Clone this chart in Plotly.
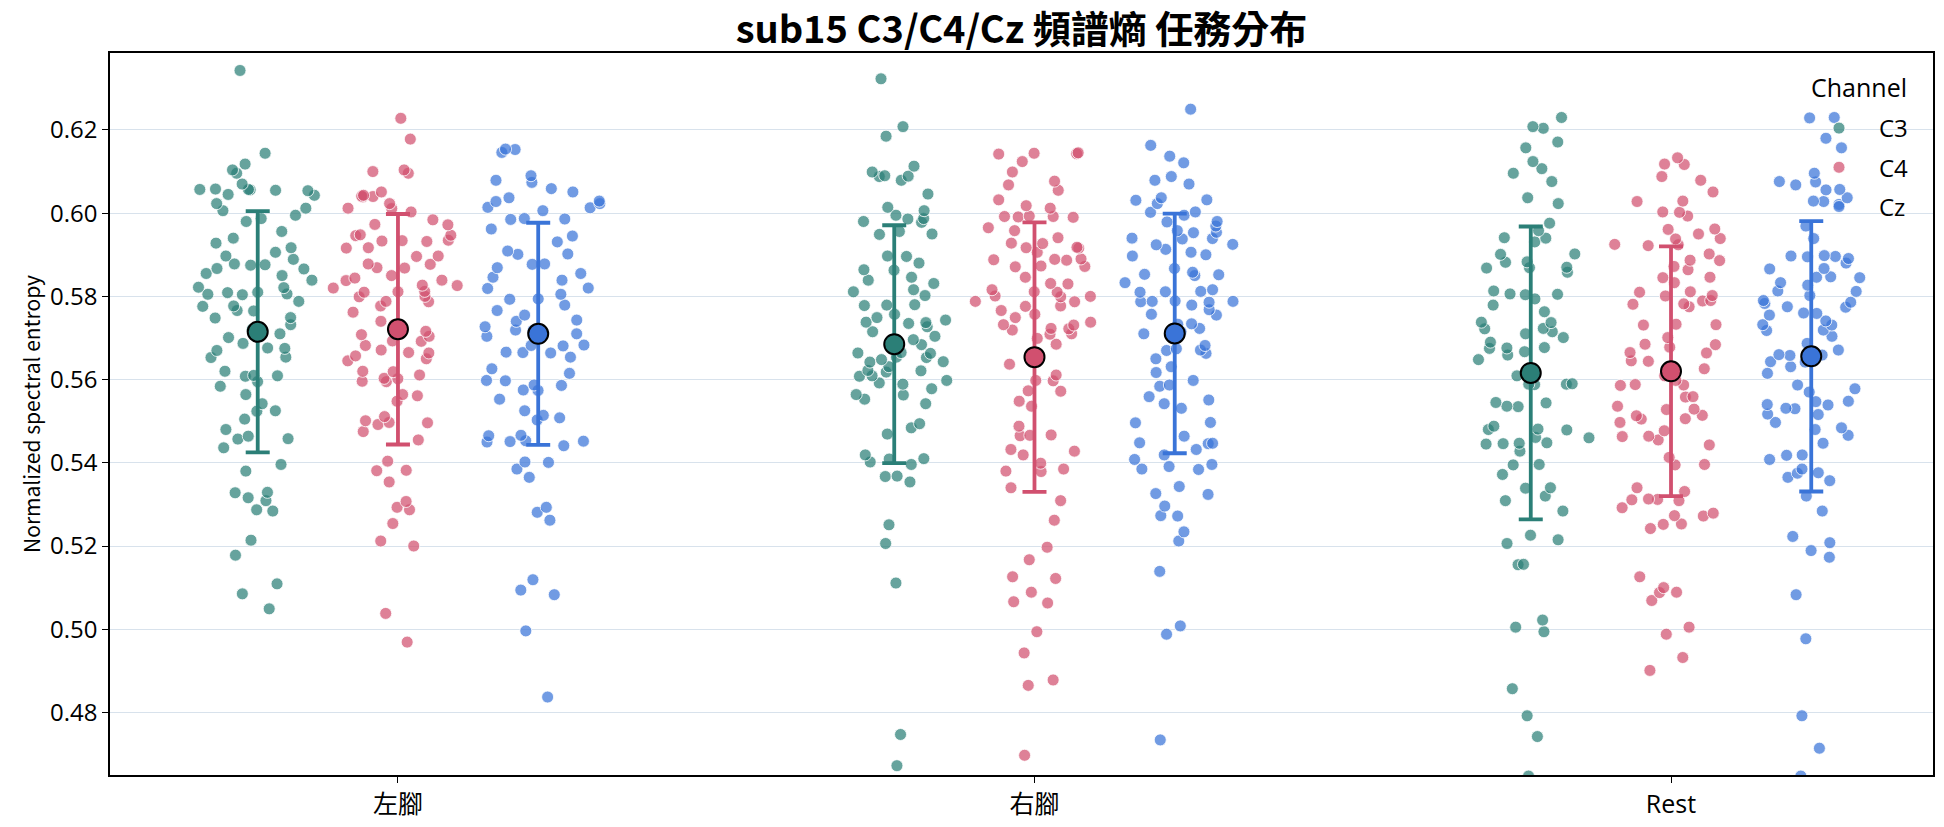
import plotly.graph_objects as go

conditions = ["左腳", "右腳", "Rest"]
channels = ["C3", "C4", "Cz"]

c3_left = [0.6343, 0.6144, 0.6118, 0.6104, 0.6096, 0.6070, 0.6057, 0.6055, 0.6058, 0.6056, 0.6054, 0.6057,
           0.6045, 0.6043, 0.6023, 0.6012, 0.6006, 0.5995, 0.5987, 0.5980, 0.5956, 0.5940, 0.5928, 0.5917,
           0.5906, 0.5897, 0.5889, 0.5878, 0.5876, 0.5875, 0.5867, 0.5866, 0.5855, 0.5850, 0.5839, 0.5822,
           0.5821, 0.5810, 0.5809, 0.5805, 0.5804, 0.5806, 0.5788, 0.5777, 0.5776, 0.5766, 0.5765, 0.5749,
           0.5748, 0.5732, 0.5721, 0.5710, 0.5701, 0.5687, 0.5676, 0.5675, 0.5670, 0.5654, 0.5653, 0.5620,
           0.5609, 0.5608, 0.5610, 0.5595, 0.5584, 0.5564, 0.5542, 0.5525, 0.5524, 0.5505, 0.5480, 0.5464,
           0.5458, 0.5457, 0.5436, 0.5396, 0.5380, 0.5329, 0.5328, 0.5316, 0.5309, 0.5287, 0.5284, 0.5214,
           0.5178, 0.5109, 0.5085, 0.5049]
c4_left = [0.6228, 0.6178, 0.6104, 0.6100, 0.6096, 0.6051, 0.6043, 0.6040, 0.6041, 0.6039, 0.6023, 0.6012,
           0.6011, 0.6003, 0.5984, 0.5973, 0.5972, 0.5947, 0.5946, 0.5948, 0.5934, 0.5933, 0.5935, 0.5932,
           0.5917, 0.5916, 0.5897, 0.5896, 0.5878, 0.5877, 0.5869, 0.5868, 0.5850, 0.5844, 0.5839, 0.5838,
           0.5827, 0.5826, 0.5820, 0.5811, 0.5810, 0.5812, 0.5800, 0.5799, 0.5788, 0.5787, 0.5777, 0.5762,
           0.5740, 0.5732, 0.5716, 0.5708, 0.5704, 0.5693, 0.5692, 0.5682, 0.5671, 0.5665, 0.5664, 0.5657,
           0.5650, 0.5645, 0.5620, 0.5619, 0.5611, 0.5603, 0.5602, 0.5596, 0.5595, 0.5564, 0.5561, 0.5548,
           0.5511, 0.5501, 0.5497, 0.5496, 0.5492, 0.5475, 0.5455, 0.5404, 0.5382, 0.5381, 0.5354, 0.5307,
           0.5293, 0.5287, 0.5254, 0.5212, 0.5200, 0.5038, 0.4969]
cz_left = [0.6154, 0.6153, 0.6146, 0.6090, 0.6079, 0.6074, 0.6059, 0.6051, 0.6037, 0.6029, 0.6028, 0.6023,
           0.6014, 0.6013, 0.6006, 0.5986, 0.5985, 0.5987, 0.5962, 0.5945, 0.5931, 0.5909, 0.5902, 0.5901,
           0.5878, 0.5877, 0.5869, 0.5855, 0.5846, 0.5839, 0.5820, 0.5819, 0.5805, 0.5794, 0.5793, 0.5779,
           0.5766, 0.5755, 0.5743, 0.5740, 0.5727, 0.5719, 0.5718, 0.5710, 0.5704, 0.5682, 0.5681, 0.5683,
           0.5665, 0.5664, 0.5666, 0.5654, 0.5626, 0.5615, 0.5598, 0.5597, 0.5587, 0.5586, 0.5575, 0.5574,
           0.5553, 0.5525, 0.5514, 0.5508, 0.5503, 0.5466, 0.5465, 0.5452, 0.5451, 0.5453, 0.5450, 0.5441,
           0.5402, 0.5401, 0.5385, 0.5365, 0.5293, 0.5281, 0.5262, 0.5119, 0.5094, 0.5083, 0.4996, 0.4837]

c3_right = [0.6323, 0.6208, 0.6185, 0.6113, 0.6099, 0.6090, 0.6088, 0.6089, 0.6079, 0.6046, 0.6014, 0.6006,
            0.5995, 0.5987, 0.5986, 0.5980, 0.5978, 0.5956, 0.5950, 0.5949, 0.5897, 0.5896, 0.5880, 0.5864,
            0.5863, 0.5846, 0.5839, 0.5831, 0.5816, 0.5811, 0.5802, 0.5779, 0.5778, 0.5780, 0.5757, 0.5749,
            0.5743, 0.5738, 0.5737, 0.5735, 0.5727, 0.5715, 0.5704, 0.5696, 0.5685, 0.5684, 0.5665, 0.5664,
            0.5663, 0.5654, 0.5653, 0.5648, 0.5643, 0.5642, 0.5631, 0.5622, 0.5621, 0.5618, 0.5609, 0.5608,
            0.5598, 0.5592, 0.5589, 0.5578, 0.5564, 0.5563, 0.5553, 0.5542, 0.5494, 0.5484, 0.5469, 0.5419,
            0.5410, 0.5409, 0.5402, 0.5396, 0.5368, 0.5367, 0.5354, 0.5251, 0.5206, 0.5111, 0.4747, 0.4672]
c4_right = [0.6145, 0.6143, 0.6144, 0.6142, 0.6124, 0.6099, 0.6077, 0.6068, 0.6055, 0.6032, 0.6018, 0.6012,
            0.5992, 0.5991, 0.5993, 0.5992, 0.5990, 0.5965, 0.5958, 0.5941, 0.5928, 0.5927, 0.5917, 0.5916,
            0.5918, 0.5906, 0.5889, 0.5888, 0.5890, 0.5887, 0.5872, 0.5871, 0.5873, 0.5846, 0.5831, 0.5830,
            0.5816, 0.5811, 0.5810, 0.5800, 0.5799, 0.5801, 0.5788, 0.5787, 0.5777, 0.5776, 0.5766, 0.5757,
            0.5749, 0.5738, 0.5732, 0.5731, 0.5723, 0.5722, 0.5719, 0.5710, 0.5709, 0.5699, 0.5685, 0.5659,
            0.5637, 0.5611, 0.5598, 0.5597, 0.5573, 0.5572, 0.5548, 0.5536, 0.5488, 0.5466, 0.5465, 0.5467,
            0.5432, 0.5428, 0.5419, 0.5399, 0.5385, 0.5380, 0.5379, 0.5340, 0.5309, 0.5262, 0.5197, 0.5167,
            0.5126, 0.5122, 0.5089, 0.5066, 0.5063, 0.4994, 0.4943, 0.4878, 0.4865, 0.4697]
cz_right = [0.6250, 0.6163, 0.6137, 0.6121, 0.6088, 0.6079, 0.6070, 0.6037, 0.6032, 0.6031, 0.6023, 0.6003,
            0.6002, 0.5995, 0.5980, 0.5979, 0.5969, 0.5958, 0.5954, 0.5953, 0.5939, 0.5938, 0.5940, 0.5925,
            0.5924, 0.5913, 0.5906, 0.5900, 0.5897, 0.5867, 0.5858, 0.5853, 0.5852, 0.5850, 0.5833, 0.5816,
            0.5811, 0.5810, 0.5812, 0.5788, 0.5787, 0.5789, 0.5788, 0.5786, 0.5779, 0.5768, 0.5757, 0.5755,
            0.5734, 0.5733, 0.5723, 0.5715, 0.5710, 0.5682, 0.5674, 0.5671, 0.5670, 0.5663, 0.5650, 0.5631,
            0.5617, 0.5598, 0.5587, 0.5584, 0.5559, 0.5551, 0.5542, 0.5531, 0.5497, 0.5496, 0.5464, 0.5447,
            0.5446, 0.5448, 0.5432, 0.5419, 0.5408, 0.5396, 0.5391, 0.5385, 0.5384, 0.5343, 0.5326, 0.5324,
            0.5296, 0.5273, 0.5272, 0.5234, 0.5212, 0.5139, 0.5008, 0.4988, 0.4734]

c3_rest = [0.6230, 0.6208, 0.6204, 0.6171, 0.6157, 0.6124, 0.6107, 0.6096, 0.6076, 0.6037, 0.6023, 0.5976,
           0.5958, 0.5941, 0.5940, 0.5931, 0.5902, 0.5901, 0.5883, 0.5882, 0.5869, 0.5868, 0.5870, 0.5858,
           0.5813, 0.5805, 0.5804, 0.5806, 0.5794, 0.5779, 0.5763, 0.5738, 0.5737, 0.5723, 0.5722, 0.5715,
           0.5710, 0.5701, 0.5690, 0.5676, 0.5675, 0.5677, 0.5667, 0.5659, 0.5648, 0.5609, 0.5589, 0.5588,
           0.5590, 0.5589, 0.5545, 0.5544, 0.5536, 0.5535, 0.5488, 0.5480, 0.5479, 0.5481, 0.5461, 0.5460,
           0.5447, 0.5446, 0.5448, 0.5445, 0.5428, 0.5396, 0.5395, 0.5372, 0.5340, 0.5339, 0.5320, 0.5309,
           0.5284, 0.5226, 0.5215, 0.5206, 0.5156, 0.5155, 0.5022, 0.5005, 0.4994, 0.4857, 0.4792, 0.4742,
           0.4647]
c4_rest = [0.6133, 0.6118, 0.6117, 0.6088, 0.6079, 0.6051, 0.6029, 0.6028, 0.6003, 0.6002, 0.5993, 0.5962,
           0.5961, 0.5950, 0.5939, 0.5938, 0.5925, 0.5924, 0.5922, 0.5902, 0.5887, 0.5886, 0.5872, 0.5864,
           0.5846, 0.5845, 0.5833, 0.5811, 0.5810, 0.5802, 0.5801, 0.5790, 0.5789, 0.5782, 0.5781, 0.5775,
           0.5732, 0.5731, 0.5733, 0.5701, 0.5685, 0.5684, 0.5678, 0.5665, 0.5664, 0.5645, 0.5644, 0.5626,
           0.5609, 0.5598, 0.5587, 0.5586, 0.5588, 0.5559, 0.5558, 0.5536, 0.5529, 0.5528, 0.5514, 0.5513,
           0.5506, 0.5505, 0.5497, 0.5477, 0.5464, 0.5463, 0.5455, 0.5443, 0.5413, 0.5396, 0.5395, 0.5340,
           0.5331, 0.5312, 0.5311, 0.5313, 0.5309, 0.5292, 0.5279, 0.5273, 0.5272, 0.5253, 0.5252, 0.5242,
           0.5126, 0.5100, 0.5089, 0.5088, 0.5069, 0.5005, 0.4988, 0.4932, 0.4901]
cz_rest = [0.6230, 0.6229, 0.6180, 0.6157, 0.6096, 0.6076, 0.6075, 0.6068, 0.6057, 0.6056, 0.6037, 0.6029,
           0.6028, 0.6021, 0.5969, 0.5939, 0.5897, 0.5896, 0.5898, 0.5895, 0.5891, 0.5880, 0.5867, 0.5866,
           0.5846, 0.5845, 0.5847, 0.5833, 0.5827, 0.5813, 0.5812, 0.5802, 0.5790, 0.5786, 0.5783, 0.5775,
           0.5774, 0.5760, 0.5759, 0.5755, 0.5741, 0.5732, 0.5731, 0.5719, 0.5718, 0.5704, 0.5687, 0.5671,
           0.5659, 0.5658, 0.5660, 0.5643, 0.5642, 0.5631, 0.5615, 0.5587, 0.5578, 0.5570, 0.5548, 0.5547,
           0.5540, 0.5539, 0.5531, 0.5530, 0.5517, 0.5516, 0.5497, 0.5484, 0.5480, 0.5466, 0.5447, 0.5419,
           0.5418, 0.5408, 0.5385, 0.5376, 0.5375, 0.5365, 0.5357, 0.5320, 0.5284, 0.5223, 0.5208, 0.5189,
           0.5173, 0.5083, 0.4977, 0.4792, 0.4714, 0.4647]

# means and standard deviations (per condition)
mean_c3 = [0.5715, 0.5685, 0.5616]
mean_c4 = [0.5721, 0.5654, 0.5620]
mean_cz = [0.5710, 0.5711, 0.5656]
sd_c3 = [0.0290, 0.0286, 0.0352]
sd_c4 = [0.0277, 0.0324, 0.0300]
sd_cz = [0.0267, 0.0288, 0.0325]

y_ticks = [0.48, 0.50, 0.52, 0.54, 0.56, 0.58, 0.60, 0.62]

points = {
    "C3": [c3_left, c3_right, c3_rest],
    "C4": [c4_left, c4_right, c4_rest],
    "Cz": [cz_left, cz_right, cz_rest],
}
means = {"C3": mean_c3, "C4": mean_c4, "Cz": mean_cz}
sds = {"C3": sd_c3, "C4": sd_c4, "Cz": sd_cz}

colors = {"C3": "#2B7F77", "C4": "#D1506F", "Cz": "#3A74D8"}
pt_colors = {"C3": "rgba(43,127,119,0.72)", "C4": "rgba(209,80,111,0.72)", "Cz": "rgba(58,116,216,0.72)"}

FONT = "Open Sans, Noto Sans CJK TC, sans-serif"

fig = go.Figure()

for ch in channels:
    xs, ys = [], []
    for cond, vals in zip(conditions, points[ch]):
        xs += [cond] * len(vals)
        ys += vals
    fig.add_trace(go.Box(
        x=xs, y=ys, name=ch, offsetgroup=ch, legendgroup=ch, showlegend=False,
        boxpoints="all", jitter=0.95, pointpos=0,
        fillcolor="rgba(0,0,0,0)", line=dict(width=0, color="rgba(0,0,0,0)"),
        marker=dict(color=pt_colors[ch], size=12, line=dict(color="white", width=0.8)),
        hoverinfo="y",
    ))

for ch in channels:
    fig.add_trace(go.Scatter(
        x=conditions, y=means[ch], mode="markers", name=ch, offsetgroup=ch,
        legendgroup=ch, showlegend=False,
        marker=dict(color=colors[ch], size=20, line=dict(color="black", width=2)),
        error_y=dict(type="data", array=sds[ch], color=colors[ch], thickness=3.8, width=12),
    ))

for ch in channels:
    fig.add_trace(go.Scatter(
        x=[None], y=[None], mode="markers", name=ch, offsetgroup=ch, legendgroup=ch,
        marker=dict(color=pt_colors[ch], size=12, line=dict(color="white", width=0.8)),
    ))

fig.update_layout(
    width=1944, height=827,
    margin=dict(l=110, r=11, t=53, b=52, autoexpand=False),
    paper_bgcolor="white", plot_bgcolor="white",
    font=dict(family=FONT, size=24, color="black"),
    title=dict(text="<b>sub15 C3/C4/Cz 頻譜熵 任務分布</b>", x=0.5, xref="paper",
               y=1 - 30 / 827, yref="container", yanchor="middle",
               font=dict(size=38, family="Noto Sans CJK TC, sans-serif")),
    boxmode="group", boxgap=0.339, boxgroupgap=0,
    scattermode="group", scattergap=0.339,
    legend=dict(x=(1799 - 110) / 1823, xanchor="left", y=(775 - 106) / 722, yanchor="top",
                bgcolor="rgba(0,0,0,0)", font=dict(size=24), tracegroupgap=5, itemwidth=70),
    annotations=[dict(text="Channel", xref="paper", yref="paper",
                      x=(1909 - 110) / 1823, xanchor="right",
                      y=(775 - 87) / 722, yanchor="middle", showarrow=False,
                      font=dict(size=25))],
    xaxis=dict(type="category", categoryorder="array", categoryarray=conditions,
               range=[-0.4524, 2.4116], showline=True, linecolor="black", linewidth=1.6,
               mirror=True, ticks="outside", ticklen=6, tickcolor="black", showgrid=False,
               tickfont=dict(size=25), automargin=False),
    yaxis=dict(range=[0.46496, 0.6385], tickvals=y_ticks, tickformat=".2f",
               showline=True, linecolor="black", linewidth=1.6, mirror=True,
               ticks="outside", ticklen=6, tickcolor="black", showgrid=True,
               gridcolor="#D8E2EC", gridwidth=1, zeroline=False, automargin=False,
               title=dict(text="Normalized spectral entropy", standoff=4,
                          font=dict(size=21, family="Noto Sans CJK TC, sans-serif")),
               tickfont=dict(size=24)),
)

fig.write_html("out.html")
